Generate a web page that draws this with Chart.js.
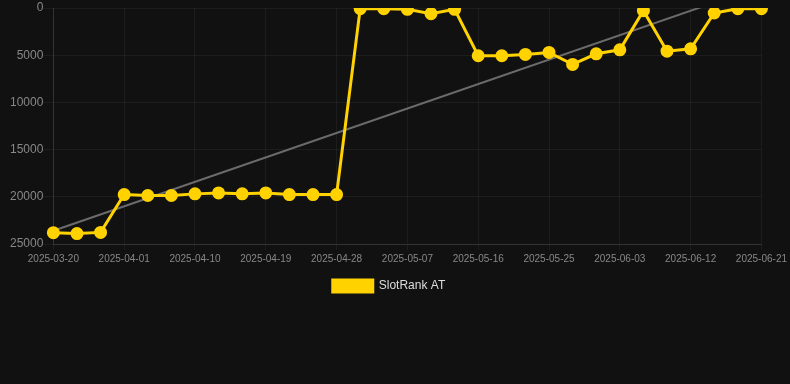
<!DOCTYPE html>
<html>
<head>
<meta charset="utf-8">
<script src="https://cdn.jsdelivr.net/npm/chart.js@4"></script>
<style>
html,body{margin:0;padding:0;background:#111111;}
#wrap{width:790px;height:384px;}
</style>
</head>
<body>
<div id="wrap"><canvas id="c" width="790" height="384"></canvas></div>
<script>
const labels = ['2025-03-20','2025-03-24','2025-03-28','2025-04-01','2025-04-04','2025-04-07','2025-04-10','2025-04-13','2025-04-16','2025-04-19','2025-04-22','2025-04-25','2025-04-28','2025-05-01','2025-05-04','2025-05-07','2025-05-10','2025-05-13','2025-05-16','2025-05-19','2025-05-22','2025-05-25','2025-05-28','2025-05-31','2025-06-03','2025-06-06','2025-06-09','2025-06-12','2025-06-15','2025-06-18','2025-06-21'];
const rankValues = [23800,23900,23770,19760,19860,19860,19690,19590,19690,19590,19760,19760,19760,70,70,140,600,140,5060,5060,4920,4710,5980,4850,4430,280,4570,4320,530,70,70];
const trendStart = 23600;
const trendEnd = -2300;
const yTicks = [0,5000,10000,15000,20000,25000];

const trendData = [{x: labels[0], y: trendStart}, {x: labels[labels.length-1], y: trendEnd}];

new Chart(document.getElementById('c'), {
  type: 'line',
  data: {
    labels: labels,
    datasets: [
      {
        label: 'SlotRank AT',
        data: rankValues,
        borderColor: '#FFD200',
        backgroundColor: '#FFD200',
        borderWidth: 3,
        pointRadius: 5,
        pointBackgroundColor: '#FFD200',
        pointBorderColor: '#FFD200',
        tension: 0,
        order: 1
      },
      {
        label: 'trend',
        data: trendData,
        borderColor: '#6b6b6b',
        borderWidth: 2,
        pointRadius: 0,
        fill: false,
        order: 2
      }
    ]
  },
  options: {
    responsive: false,
    animation: false,
    layout: {padding: {top: 0, bottom: 82, left: 10, right: 22}},
    plugins: {
      legend: {
        position: 'bottom',
        labels: {
          color: '#dddddd',
          font: {size: 12},
          boxWidth: 40,
          boxHeight: 12,
          padding: 12,
          filter: (item) => item.text !== 'trend'
        }
      },
      tooltip: {enabled: false}
    },
    scales: {
      x: {
        offset: false,
        grid: {color: 'rgba(255,255,255,0.05)', tickLength: 6},
        border: {color: 'rgba(255,255,255,0.1)'},
        ticks: {
          color: '#888888',
          font: {size: 10},
          maxRotation: 0,
          autoSkip: false,
          callback: function(v, i) { return i % 3 === 0 ? labels[i] : null; }
        }
      },
      y: {
        reverse: true,
        min: 0,
        max: 25000,
        afterBuildTicks: (axis) => { axis.ticks = yTicks.map(v => ({value: v})); },
        grid: {color: 'rgba(255,255,255,0.05)', tickLength: 10},
        border: {color: 'rgba(255,255,255,0.1)'},
        ticks: {color: '#888888', font: {size: 12, lineHeight: 1}, padding: 0, callback: (v) => String(v)}
      }
    }
  }
});
</script>
</body>
</html>
